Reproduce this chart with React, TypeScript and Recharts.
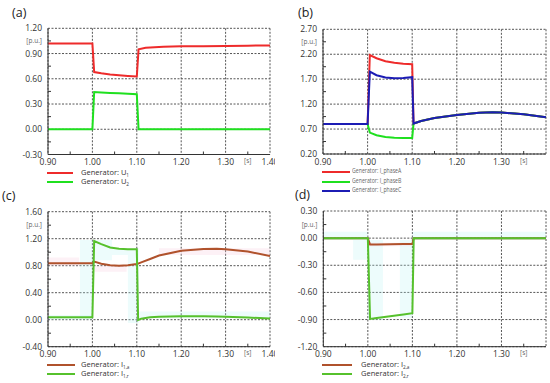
import React from 'react';
import { LineChart, Line, XAxis, YAxis, CartesianGrid, ReferenceArea } from 'recharts';

const FONT = '"Open Sans", "Liberation Sans", sans-serif';

const RED = '#ee2b2b';
const GREEN = '#1fe01f';
const BLUE = '#1c1cb4';
const BROWN = '#b0522c';
const OLIVE = '#56c12c';
const CYAN = '#b6f3f3';
const PINK = '#f9c6dc';

// time axis [s]
const xTicks = [0.9, 0.95, 1.0, 1.05, 1.1, 1.15, 1.2, 1.25, 1.3, 1.35, 1.4];
const xMajor = [0.9, 1.0, 1.1, 1.2, 1.3, 1.4];

// (a) generator voltages U1 / U2
const timeA = [0.9, 1.0, 1.004, 1.02, 1.04, 1.06, 1.08, 1.1, 1.104, 1.12, 1.14, 1.16, 1.2, 1.25, 1.3, 1.35, 1.4];
const u1 = [1.02, 1.02, 0.68, 0.665, 0.652, 0.642, 0.634, 0.627, 0.95, 0.968, 0.976, 0.981, 0.986, 0.988, 0.99, 0.993, 0.997];
const u2 = [0, 0, 0.442, 0.437, 0.432, 0.427, 0.422, 0.416, 0, 0, 0, 0, 0, 0, 0, 0, 0];
const yTicksA = [-0.3, -0.15, 0, 0.15, 0.3, 0.45, 0.6, 0.75, 0.9, 1.05, 1.2];
const yMajorA = [-0.3, 0, 0.3, 0.6, 0.9, 1.2];

// (b) phase currents
const timeB = [0.9, 1.0, 1.005, 1.02, 1.04, 1.06, 1.08, 1.1, 1.103, 1.12, 1.15, 1.2, 1.25, 1.28, 1.3, 1.35, 1.4];
const iPhaseA = [0.8, 0.8, 2.185, 2.12, 2.06, 2.03, 2.01, 2.0, 0.81, 0.86, 0.92, 0.98, 1.025, 1.035, 1.03, 0.995, 0.935];
const iPhaseB = [0.8, 0.8, 0.63, 0.575, 0.54, 0.525, 0.52, 0.52, 0.81, 0.86, 0.92, 0.98, 1.025, 1.035, 1.03, 0.995, 0.935];
const iPhaseC = [0.8, 0.8, 1.85, 1.78, 1.735, 1.72, 1.725, 1.74, 0.81, 0.86, 0.92, 0.98, 1.025, 1.035, 1.03, 0.995, 0.935];
const yTicksB = [0.2, 0.45, 0.7, 0.95, 1.2, 1.45, 1.7, 1.95, 2.2, 2.45, 2.7];
const yMajorB = [0.2, 0.7, 1.2, 1.7, 2.2, 2.7];

// (c) positive sequence current, active / reactive
const timeC = [0.9, 1.0, 1.004, 1.02, 1.04, 1.06, 1.08, 1.1, 1.103, 1.11, 1.13, 1.15, 1.2, 1.25, 1.28, 1.3, 1.35, 1.4];
const i1a = [0.836, 0.836, 0.86, 0.83, 0.808, 0.8, 0.806, 0.825, 0.83, 0.85, 0.9, 0.95, 1.02, 1.048, 1.052, 1.045, 1.01, 0.945];
const i1r = [0.036, 0.036, 1.165, 1.12, 1.07, 1.05, 1.045, 1.043, -0.005, 0.015, 0.035, 0.045, 0.05, 0.05, 0.046, 0.044, 0.032, 0.018];
const yTicksC = [-0.4, -0.2, 0, 0.2, 0.4, 0.6, 0.8, 1.0, 1.2, 1.4, 1.6];
const yMajorC = [-0.4, 0, 0.4, 0.8, 1.2, 1.6];

// (d) negative sequence current, active / reactive
const timeD = [0.9, 1.0, 1.005, 1.02, 1.05, 1.08, 1.1, 1.103, 1.2, 1.3, 1.4];
const i2a = [0, 0, -0.07, -0.07, -0.068, -0.066, -0.065, 0, 0, 0, 0];
const i2r = [0, 0, -0.893, -0.883, -0.863, -0.844, -0.83, 0, 0, 0, 0];
const yTicksD = [-1.2, -1.05, -0.9, -0.75, -0.6, -0.45, -0.3, -0.15, 0, 0.15, 0.3];
const yMajorD = [-1.2, -0.9, -0.6, -0.3, 0, 0.3];

// faint highlight boxes seen in the lower plots
const areasC = [
  { x1: 0.9, x2: 0.97, y1: 0.8, y2: 0.92, fill: PINK },
  { x1: 0.9, x2: 1.0, y1: 0.0, y2: 0.07, fill: CYAN },
  { x1: 0.972, x2: 1.0, y1: 0.02, y2: 1.18, fill: CYAN },
  { x1: 1.0, x2: 1.044, y1: 0.88, y2: 1.18, fill: CYAN },
  { x1: 1.005, x2: 1.077, y1: 0.71, y2: 0.8, fill: PINK },
  { x1: 1.044, x2: 1.08, y1: 0.96, y2: 1.06, fill: CYAN },
  { x1: 1.08, x2: 1.105, y1: -0.05, y2: 1.06, fill: CYAN },
  { x1: 1.105, x2: 1.4, y1: 0.02, y2: 0.12, fill: CYAN },
  { x1: 1.15, x2: 1.4, y1: 0.96, y2: 1.06, fill: PINK },
];
const areasD = [
  { x1: 0.9, x2: 1.0, y1: -0.02, y2: 0.07, fill: CYAN },
  { x1: 1.1, x2: 1.4, y1: -0.02, y2: 0.07, fill: CYAN },
  { x1: 0.967, x2: 1.0, y1: -0.24, y2: -0.02, fill: CYAN },
  { x1: 1.0, x2: 1.034, y1: -0.905, y2: -0.02, fill: CYAN },
  { x1: 1.072, x2: 1.1, y1: -0.88, y2: -0.02, fill: CYAN },
  { x1: 1.0, x2: 1.1, y1: -0.09, y2: -0.05, fill: PINK },
];

const near = (list: number[], v: number) => list.some((m) => Math.abs(m - v) < 1e-6);

function makeXTick(hideLast: boolean) {
  return (p: any) => {
    const v = p.payload.value;
    if (near(xMajor, v)) {
      if (hideLast && Math.abs(v - 1.4) < 1e-6) return <g />;
      return (
        <text x={p.x} y={p.y + 10.5} textAnchor="middle" fontSize={8.5} fill="#333" fontFamily={FONT}>
          {v.toFixed(2)}
        </text>
      );
    }
    return (
      <g>
        <line x1={p.x} y1={p.y} x2={p.x} y2={p.y - 3} stroke="#333" />
        {Math.abs(v - 1.35) < 1e-6 && (
          <text x={p.x} y={p.y + 8.5} textAnchor="middle" fontSize={6.5} fill="#666" fontFamily={FONT}>
            [s]
          </text>
        )}
      </g>
    );
  };
}

function makeYTick(major: number[], unitValue: number) {
  return (p: any) => {
    const v = p.payload.value;
    if (near(major, v)) {
      return (
        <text x={p.x - 6} y={p.y + 3} textAnchor="end" fontSize={8.5} fill="#333" fontFamily={FONT}>
          {v.toFixed(2)}
        </text>
      );
    }
    return (
      <g>
        <line x1={p.x} y1={p.y} x2={p.x + 3} y2={p.y} stroke="#333" />
        {Math.abs(v - unitValue) < 1e-6 && (
          <text x={p.x - 6} y={p.y + 2} textAnchor="end" fontSize={6.5} fill="#666" fontFamily={FONT}>
            [p.u.]
          </text>
        )}
      </g>
    );
  };
}

type Series = { key: string; values: number[]; color: string };
type Area = { x1: number; x2: number; y1: number; y2: number; fill: string };

function Panel(props: {
  left: number;
  top: number;
  height: number;
  margin: { top: number; right: number; left: number; bottom: number };
  time: number[];
  series: Series[];
  yDomain: [number, number];
  yTicks: number[];
  yMajor: number[];
  unitValue: number;
  hideLast?: boolean;
  areas?: Area[];
}) {
  const { left, top, height, margin, time, series, yDomain, yTicks, yMajor, unitValue, hideLast, areas } = props;
  const data = time.map((t, i) => {
    const row: any = { t };
    series.forEach((s) => (row[s.key] = s.values[i]));
    return row;
  });
  return (
    <div style={{ position: 'absolute', left, top }}>
      <LineChart width={275} height={height} data={data} margin={margin}>
        {(areas || []).map((a, i) => (
          <ReferenceArea
            key={i}
            x1={a.x1}
            x2={a.x2}
            y1={a.y1}
            y2={a.y2}
            fill={a.fill}
            fillOpacity={0.25}
            stroke="none"
            ifOverflow="hidden"
          />
        ))}
        <CartesianGrid stroke="#555" strokeDasharray="2 1.5" horizontalValues={yMajor} verticalValues={xMajor} />
        <XAxis
          dataKey="t"
          type="number"
          domain={[0.9, 1.4]}
          ticks={xTicks}
          interval={0}
          height={20}
          tickSize={0}
          tickMargin={0}
          tickLine={false}
          axisLine={{ stroke: '#333' }}
          tick={makeXTick(!!hideLast)}
          allowDataOverflow
        />
        <YAxis
          type="number"
          domain={yDomain}
          ticks={yTicks}
          interval={0}
          width={48}
          tickSize={0}
          tickMargin={0}
          tickLine={false}
          axisLine={{ stroke: '#333' }}
          tick={makeYTick(yMajor, unitValue)}
          allowDataOverflow
        />
        {series.map((s) => (
          <Line
            key={s.key}
            type="linear"
            dataKey={s.key}
            stroke={s.color}
            strokeWidth={2}
            dot={false}
            activeDot={false}
            isAnimationActive={false}
          />
        ))}
      </LineChart>
    </div>
  );
}

type LegendItem = { label: string; sub?: string; color: string };

const legendA: LegendItem[] = [
  { label: 'Generator: U', sub: '1', color: RED },
  { label: 'Generator: U', sub: '2', color: GREEN },
];
const legendB: LegendItem[] = [
  { label: 'Generator: I_phaseA', color: RED },
  { label: 'Generator: I_phaseB', color: GREEN },
  { label: 'Generator: I_phaseC', color: BLUE },
];
const legendC: LegendItem[] = [
  { label: 'Generator: I', sub: '1,a', color: BROWN },
  { label: 'Generator: I', sub: '1,r', color: OLIVE },
];
const legendD: LegendItem[] = [
  { label: 'Generator: I', sub: '2,a', color: BROWN },
  { label: 'Generator: I', sub: '2,r', color: OLIVE },
];

function Legend(props: {
  x: number;
  rows: number[];
  lineW: number;
  textX: number;
  items: LegendItem[];
  fontSize: number;
  color: string;
  scaleX?: number;
}) {
  const { x, rows, lineW, textX, items, fontSize, color, scaleX } = props;
  return (
    <>
      {items.map((it, i) => (
        <React.Fragment key={i}>
          <div
            style={{ position: 'absolute', left: x, top: rows[i] - 1.25, width: lineW, height: 2.5, background: it.color }}
          />
          <div
            style={{
              position: 'absolute',
              left: textX,
              top: rows[i] - fontSize * 0.58,
              fontSize,
              lineHeight: 1,
              color,
              whiteSpace: 'nowrap',
              transform: scaleX ? `scaleX(${scaleX})` : undefined,
              transformOrigin: 'left center',
            }}
          >
            {it.label}
            {it.sub && <span style={{ fontSize: fontSize * 0.62, position: 'relative', top: fontSize * 0.3 }}>{it.sub}</span>}
          </div>
        </React.Fragment>
      ))}
    </>
  );
}

function Tag({ text, x, y }: { text: string; x: number; y: number }) {
  return (
    <div style={{ position: 'absolute', left: x, top: y - 9, fontSize: 12.5, lineHeight: '18px', color: '#222' }}>{text}</div>
  );
}

export default function App() {
  return (
    <div
      style={{
        position: 'absolute',
        left: 0,
        top: 0,
        width: 550,
        height: 383,
        background: '#fff',
        overflow: 'hidden',
        fontFamily: FONT,
      }}
    >
      <Panel
        left={0}
        top={0}
        height={190}
        margin={{ top: 28.3, right: 5, left: 0, bottom: 15.5 }}
        time={timeA}
        series={[
          { key: 'u1', values: u1, color: RED },
          { key: 'u2', values: u2, color: GREEN },
        ]}
        yDomain={[-0.3, 1.2]}
        yTicks={yTicksA}
        yMajor={yMajorA}
        unitValue={1.05}
      />
      <Panel
        left={275}
        top={0}
        height={190}
        margin={{ top: 29.3, right: 4, left: 0, bottom: 16 }}
        time={timeB}
        series={[
          { key: 'ia', values: iPhaseA, color: RED },
          { key: 'ib', values: iPhaseB, color: GREEN },
          { key: 'ic', values: iPhaseC, color: BLUE },
        ]}
        yDomain={[0.2, 2.7]}
        yTicks={yTicksB}
        yMajor={yMajorB}
        unitValue={2.45}
        hideLast
      />
      <Panel
        left={0}
        top={190}
        height={193}
        margin={{ top: 21.7, right: 5, left: 0, bottom: 16.3 }}
        time={timeC}
        series={[
          { key: 'a', values: i1a, color: BROWN },
          { key: 'r', values: i1r, color: OLIVE },
        ]}
        yDomain={[-0.4, 1.6]}
        yTicks={yTicksC}
        yMajor={yMajorC}
        unitValue={1.4}
        areas={areasC}
      />
      <Panel
        left={275}
        top={190}
        height={193}
        margin={{ top: 21, right: 4, left: 0.3, bottom: 16.3 }}
        time={timeD}
        series={[
          { key: 'a', values: i2a, color: BROWN },
          { key: 'r', values: i2r, color: OLIVE },
        ]}
        yDomain={[-1.2, 0.3]}
        yTicks={yTicksD}
        yMajor={yMajorD}
        unitValue={0.15}
        hideLast
        areas={areasD}
      />

      <Legend x={47} rows={[173, 182]} lineW={26} textX={81} items={legendA} fontSize={7.5} color="#333" />
      <Legend x={322} rows={[172, 182, 191]} lineW={28} textX={352} items={legendB} fontSize={6.5} color="#666" scaleX={0.8} />
      <Legend x={47} rows={[365, 374]} lineW={28} textX={81} items={legendC} fontSize={7.5} color="#333" />
      <Legend x={322} rows={[365, 374]} lineW={30} textX={361} items={legendD} fontSize={7.5} color="#333" />

      <Tag text="(a)" x={12} y={13} />
      <Tag text="(b)" x={298} y={13} />
      <Tag text="(c)" x={2} y={196} />
      <Tag text="(d)" x={295} y={195} />
    </div>
  );
}
